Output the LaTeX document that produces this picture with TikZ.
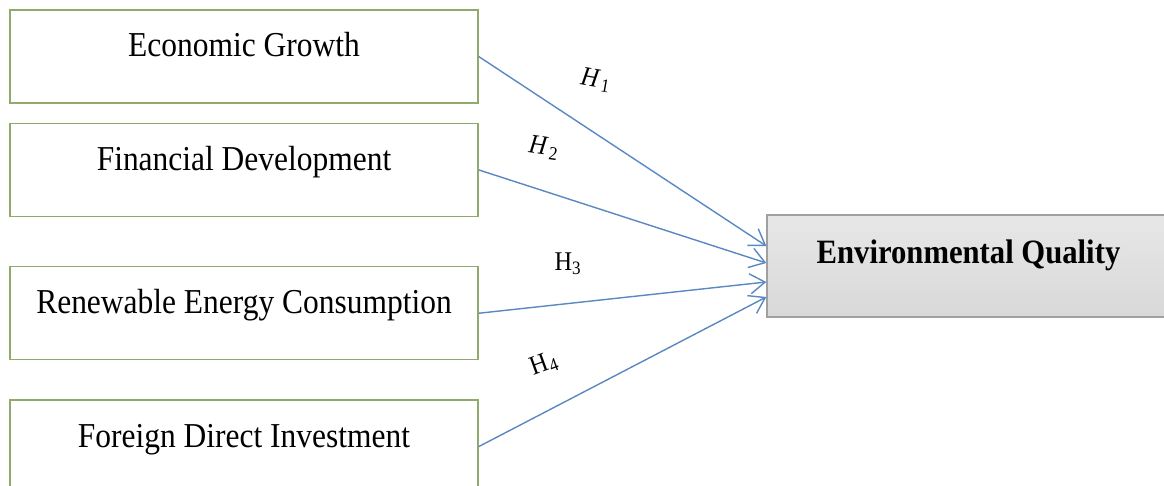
\documentclass[tikz,border=0pt]{standalone}
\usepackage{fontspec}
\setmainfont{Liberation Serif}[FakeStretch=0.9]
\usetikzlibrary{arrows.meta,positioning}
\definecolor{boxline}{HTML}{8FAA6A}
\definecolor{linkblue}{HTML}{5A88C0}
\definecolor{targetline}{HTML}{A0A0A0}
\tikzset{
  varbox/.style={draw=boxline, line width=0.8pt, fill=white, inner sep=0pt,
    minimum width=9.36cm, minimum height=1.86cm,
    font=\fontsize{19.9}{24}\selectfont, text height=0.49cm, text depth=0.47cm},
  targetbox/.style={draw=targetline, line width=0.8pt, top color=gray!19, bottom color=gray!30,
    inner sep=0pt, minimum width=8.06cm, minimum height=2.04cm,
    font=\fontsize{19.4}{23}\selectfont\bfseries, text height=0.48cm, text depth=0.59cm},
  arr/.style={-{Straight Barb[length=3mm,width=4mm]}, line width=0.8pt, draw=linkblue},
  hyp/.style={font=\fontsize{15.4}{18}\selectfont, inner sep=1pt}
}

\begin{document}
\begin{tikzpicture}[x=0.02cm, y=-0.02cm, node distance=0.38cm]
  \useasboundingbox (0,0) rectangle (1164,486);
  % independent variables
  \node[varbox] (growth) at (244,56.5) {Economic Growth};
  \node[varbox, below=of growth] (findev) {Financial Development};
  \node[varbox, below=0.98cm of findev] (renew) {Renewable Energy Consumption};
  \node[varbox, below=0.78cm of renew] (fdi) {Foreign Direct Investment};
  % dependent variable
  \node[targetbox] (envq) at (968.5,266) {Environmental Quality};
  % hypotheses
  \draw[arr] (growth.east) -- ([yshift=0.4cm]envq.west);
  \draw[arr] (findev.east) -- ([yshift=0.06cm]envq.west);
  \draw[arr] (renew.east) -- ([yshift=-0.32cm]envq.west);
  \draw[arr] (fdi.east) -- ([yshift=-0.62cm]envq.west);
  \node[hyp, rotate=-10] (h1) at (596,80) {\textit{H}\kern0.08em\textsubscript{1}};
  \node[hyp, rotate=-8] (h2) at (544,148) {\textit{H}\kern0.08em\textsubscript{2}};
  \node[hyp] (h3) at (568,264) {H\textsubscript{3}};
  \node[hyp, rotate=20] (h4) at (544,364) {H\kern0.03em\textsubscript{4}};
\end{tikzpicture}
\end{document}
